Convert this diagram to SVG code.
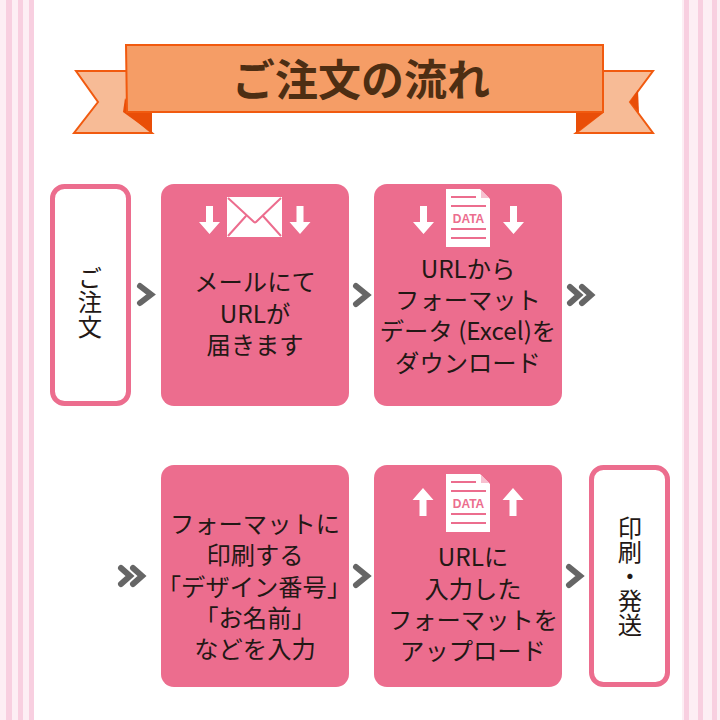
<svg xmlns="http://www.w3.org/2000/svg" width="720" height="720" viewBox="0 0 720 720">
<style>
.s{fill:#f8cfe0}.p{fill:#fdeef4}
.t{font-family:"Noto Sans CJK JP","Noto Sans",sans-serif;font-size:24.3px;fill:#231815;text-anchor:middle}
.box{fill:#ec6d8e}
.wb{fill:#fff;stroke:#ec6d8e;stroke-width:5}
.w{fill:#fff}
.ln{stroke:#ec6d8e;stroke-width:2;fill:none}
.ch{fill:none;stroke:#666;stroke-width:6;stroke-linecap:round;stroke-linejoin:miter}
.rib{fill:#f7bb96;stroke:#f15a0f;stroke-width:2}
.dk{fill:#e94e08}
.dt{font-family:"Liberation Sans",sans-serif;font-weight:700;font-size:12px;fill:#ec6d8e;text-anchor:middle}
</style>
<defs>
<path id="da" d="M-3.500 -13H3.500V3H10.500L0 15L-10.500 3H-3.500Z"/>
<g id="doc">
<path class="w" d="M0 0H34L44 10V58H0Z"/>
<path d="M35 1L43 9H35Z" fill="#f7c0d0"/>
<path class="ln" d="M5 8H30M5 17H40M5 40H40M5 49H40"/>
<text class="dt" x="22.500" y="33.500">DATA</text>
</g>
</defs>
<g id="stripes">
<rect class="p" x="0" y="0" width="34" height="720"/>
<rect class="s" x="6" y="0" width="6" height="720"/>
<rect class="s" x="18" y="0" width="5" height="720"/>
<rect class="s" x="29" y="0" width="5" height="720"/>
<rect class="p" x="682" y="0" width="38" height="720"/>
<rect class="s" x="684" y="0" width="5" height="720"/>
<rect class="s" x="698" y="0" width="5" height="720"/>
<rect class="s" x="712" y="0" width="5" height="720"/>
</g>
<g id="ribbon">
<path class="rib" d="M76 71H127V112L152 133H74L98 102Z"/>
<path class="rib" d="M603 71H653L630 102L653 133H576L603 112Z"/>
<path class="dk" d="M123 112L152 112V133Z"/>
<path class="dk" d="M125 98L132 112H123Z"/>
<path class="dk" d="M576 112H604L576 133Z"/>
<path class="dk" d="M630 102L638 90L639 113Z"/>
<path d="M126 45H603V112H127Z" fill="#f59d66" stroke="#f15a0f" stroke-width="2"/>
<text x="361" y="96" style="font-family:'Noto Sans CJK JP',sans-serif;font-weight:700;font-size:43px;fill:#4d2e13;text-anchor:middle">ご注文の流れ</text>
</g>
<g id="connectors">
<path class="ch" d="M140 286L151 294.500L140 303"/>
<path class="ch" d="M356 286L367 295L356 304"/>
<path class="ch" d="M570 287L579 295L570 303M582 287L591 295L582 303"/>
<path class="ch" d="M121 568L130 576L121 584M133 568L142 576L133 584"/>
<path class="ch" d="M356 567L367 576L356 585"/>
<path class="ch" d="M569 567L580 576L569 585"/>
</g>
<g id="order"><rect class="wb" x="52.500" y="186.500" width="76" height="217" rx="12"/>
<text class="t" style="writing-mode:vertical-rl" x="90" y="302">ご注文</text></g>
<g id="mail"><rect class="box" x="161" y="184" width="188" height="222" rx="13"/>
<use href="#da" x="209.500" y="219" fill="#fff"/>
<use href="#da" x="300" y="219" fill="#fff"/>
<rect class="w" x="227" y="197" width="55" height="40"/>
<path class="ln" d="M228 198L254 222Q255 223 256 222L281 198M228 236L246 216M281 236L263 216"/>
<text class="t" x="255" y="291">メールにて</text>
<text class="t" x="255" y="323">URLが</text>
<text class="t" x="255" y="354">届きます</text></g>
<g id="download"><rect class="box" x="374" y="184" width="188" height="222" rx="13"/>
<use href="#da" x="423.500" y="219" fill="#fff"/>
<use href="#da" x="513.500" y="219" fill="#fff"/>
<use href="#doc" x="446" y="189"/>
<text class="t" x="468" y="278">URLから</text>
<text class="t" x="468" y="309">フォーマット</text>
<text class="t" x="468" y="340">データ (Excel)を</text>
<text class="t" x="468" y="372">ダウンロード</text></g>
<g id="print"><rect class="box" x="161" y="465" width="188" height="222" rx="13"/>
<text class="t" x="255" y="533">フォーマットに</text>
<text class="t" x="255" y="564">印刷する</text>
<text class="t" x="254" y="596">「デザイン番号」</text>
<text class="t" x="255" y="627">「お名前」</text>
<text class="t" x="255" y="658">などを入力</text></g>
<g id="upload"><rect class="box" x="374" y="465" width="188" height="222" rx="13"/>
<use href="#da" transform="translate(423 503) rotate(180)" fill="#fff"/>
<use href="#da" transform="translate(513 503) rotate(180)" fill="#fff"/>
<use href="#doc" x="446" y="474"/>
<text class="t" x="473" y="566">URLに</text>
<text class="t" x="473" y="598">入力した</text>
<text class="t" x="473" y="629">フォーマットを</text>
<text class="t" x="473" y="660">アップロード</text></g>
<g id="ship"><rect class="wb" x="591.500" y="467.500" width="76" height="217" rx="12"/>
<text class="t" style="writing-mode:vertical-rl" x="630" y="576">印刷・発送</text></g>
</svg>
